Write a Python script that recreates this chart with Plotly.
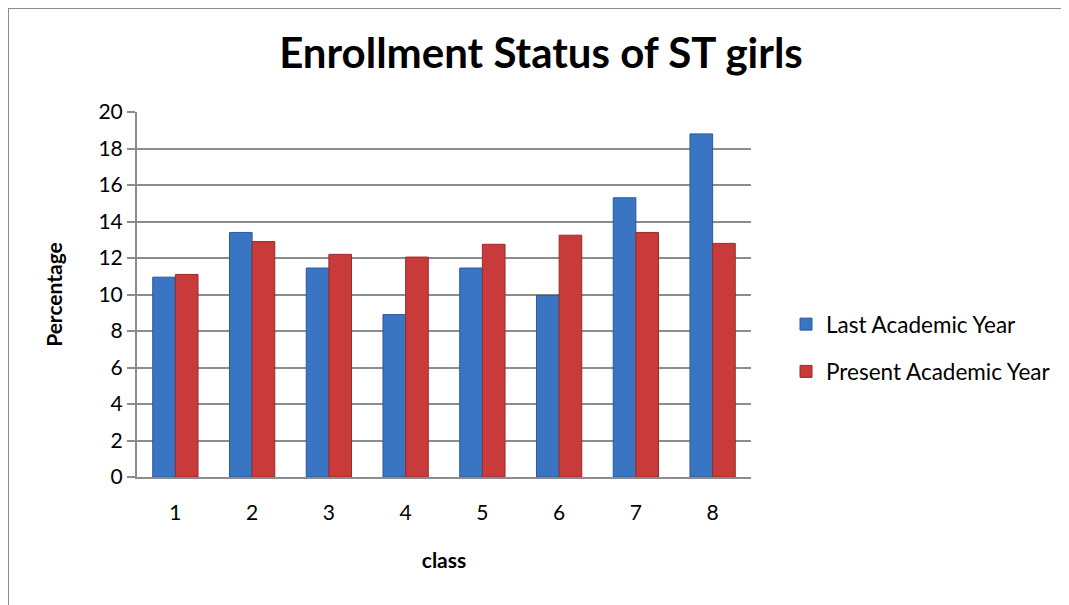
import plotly.graph_objects as go

classes = ["1", "2", "3", "4", "5", "6", "7", "8"]
last_year = [10.95, 13.4, 11.45, 8.9, 11.45, 9.95, 15.3, 18.8]
present_year = [11.1, 12.9, 12.2, 12.05, 12.75, 13.25, 13.4, 12.8]
series_names = ["Last Academic Year", "Present Academic Year"]
y_ticks = [0, 2, 4, 6, 8, 10, 12, 14, 16, 18, 20]

BODY = "Lato, 'Open Sans', sans-serif"

# the page has an 8px body margin; figure is sized/positioned in reference pixels minus 8
OFF = 8
W, H = 1069 - OFF, 605 - OFF
PL, PR, PT, PB = 137 - OFF, 751 - OFF, 112 - OFF, 477 - OFF
pw, ph = PR - PL, PB - PT

def px_x(x):
    return (x - OFF - PL) / pw

def px_y(y):
    return (PB - (y - OFF)) / ph

fig = go.Figure()
fig.add_trace(go.Bar(x=classes, y=last_year, name=series_names[0],
                     marker=dict(color="#3a75c4", line=dict(color="#2b5a9a", width=1)),
                     legendgroup="a"))
fig.add_trace(go.Bar(x=classes, y=present_year, name=series_names[1],
                     marker=dict(color="#c93a3a", line=dict(color="#9a2b2b", width=1)),
                     legendgroup="b"))

fig.update_layout(
    width=W, height=H,
    margin=dict(l=PL, r=W - PR, t=PT, b=H - PB),
    paper_bgcolor="white", plot_bgcolor="white",
    barmode="group", bargap=0.41, bargroupgap=0,
    font=dict(family=BODY, color="#000000", size=21),
    title=dict(text="<b>Enrollment Status of ST girls</b>",
               font=dict(family=BODY, size=42, color="#000"),
               xref="container", x=(541 - OFF) / W, xanchor="center",
               yref="container", y=1 - (53 - OFF) / H, yanchor="middle"),
    xaxis=dict(showline=True, linecolor="#8c8c8c", linewidth=2,
               tickfont=dict(size=21), ticks="outside", ticklen=16,
               tickcolor="rgba(0,0,0,0)", showgrid=False,
               title=dict(text="<b>class</b>", font=dict(size=21), standoff=30)),
    yaxis=dict(range=[0, 20], tickvals=y_ticks, showline=True, linecolor="#8c8c8c",
               linewidth=2, ticks="outside", ticklen=8, tickcolor="#8c8c8c",
               tickwidth=1.5, showgrid=True, gridcolor="#8c8c8c", gridwidth=1.5,
               tickfont=dict(size=21), zeroline=False, ticksuffix="\u2002 ",
               title=dict(text="<b>Percentage</b>", font=dict(size=21), standoff=30)),
    legend=dict(x=px_x(786), y=px_y(303), xanchor="left", yanchor="top",
                font=dict(size=22.5), tracegroupgap=15, itemwidth=30,
                bgcolor="rgba(0,0,0,0)"),
    showlegend=True,
    shapes=[
        dict(type="line", xref="paper", yref="paper", x0=px_x(8), x1=px_x(1075),
             y0=px_y(8), y1=px_y(8), line=dict(color="#8c8c8c", width=2)),
        dict(type="line", xref="paper", yref="paper", x0=px_x(8), x1=px_x(8),
             y0=px_y(8), y1=px_y(610), line=dict(color="#8c8c8c", width=2)),
    ],
)

fig.write_html("out.html")
